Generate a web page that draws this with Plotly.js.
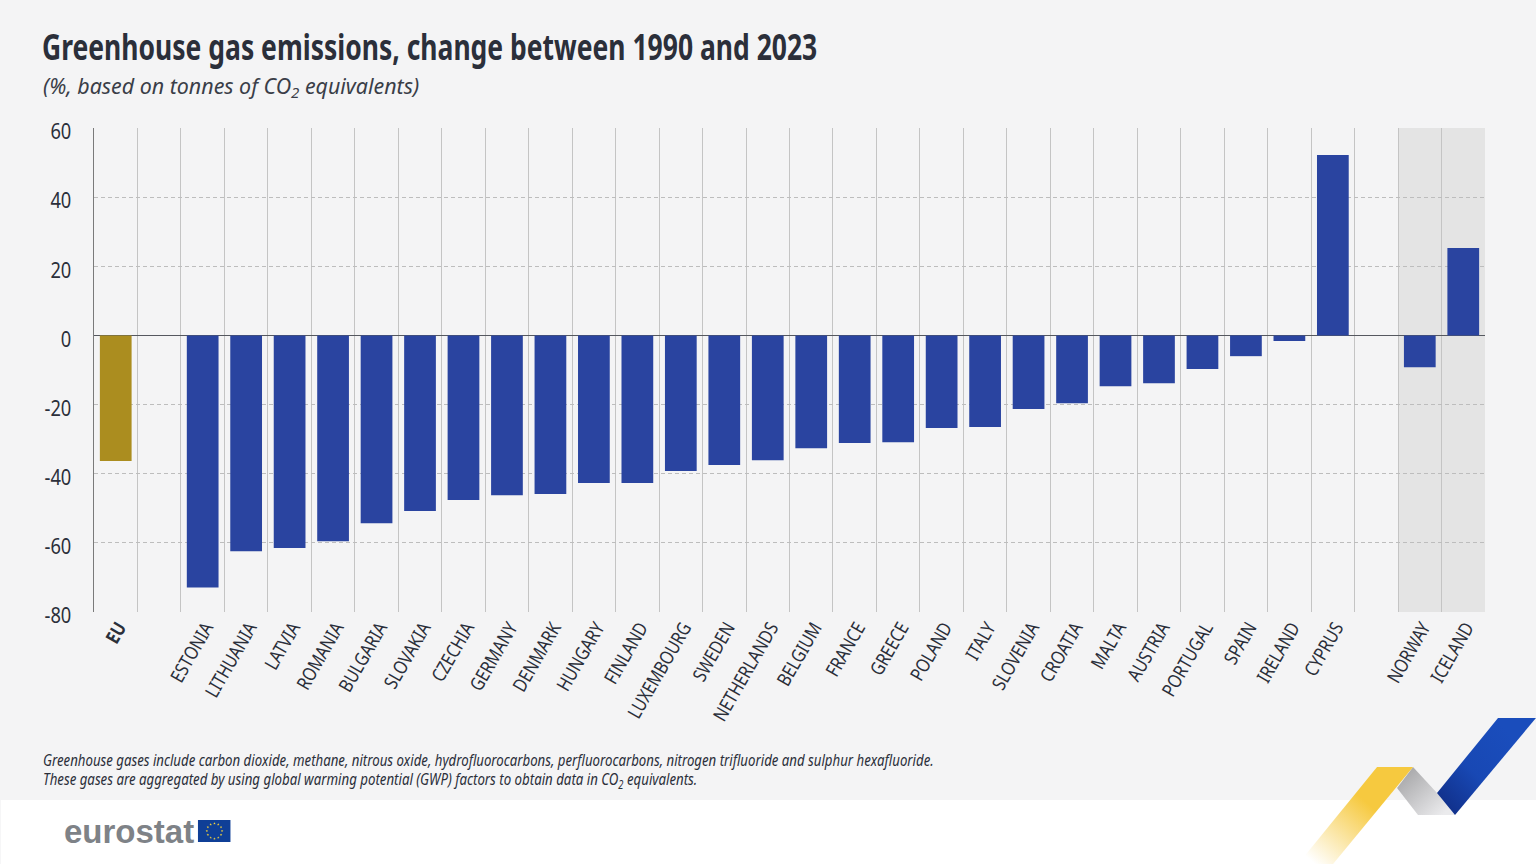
<!DOCTYPE html>
<html>
<head>
<meta charset="utf-8">
<script src="https://cdn.plot.ly/plotly-3.0.1.min.js"></script>
<style>html,body{margin:0;padding:0;background:#f4f4f5;overflow:hidden}#c{width:1536px;height:864px}</style>
</head>
<body>
<div id="c"></div>
<script>
const categories = ['EU',' ','ESTONIA','LITHUANIA','LATVIA','ROMANIA','BULGARIA','SLOVAKIA','CZECHIA','GERMANY','DENMARK','HUNGARY','FINLAND','LUXEMBOURG','SWEDEN','NETHERLANDS','BELGIUM','FRANCE','GREECE','POLAND','ITALY','SLOVENIA','CROATIA','MALTA','AUSTRIA','PORTUGAL','SPAIN','IRELAND','CYPRUS','  ','NORWAY','ICELAND'];
const tickLabels = categories.map(c => c === 'EU' ? '<b>EU</b>' : c);
const values = [-36.3,null,-72.9,-62.4,-61.5,-59.5,-54.3,-50.8,-47.6,-46.2,-45.9,-42.7,-42.7,-39.2,-37.5,-36.1,-32.6,-31.1,-30.9,-26.8,-26.5,-21.3,-19.6,-14.7,-13.8,-9.7,-6.0,-1.6,52.2,null,-9.2,25.3];
const barColors = categories.map(c => c === 'EU' ? '#ab8d1f' : '#2a44a0');
const yTicks = [60,40,20,0,-20,-40,-60,-80];

const FONT = '"Noto Sans","Open Sans",sans-serif';
const W = 1536, H = 864;
const L = 93.5, R = 1485, T = 128, B = 612;
const px = x => (x - L) / (R - L);
const py = y => (B - y) / (B - T);

function star(cx, cy, r){let s='';for(let i=0;i<10;i++){const a=-Math.PI/2+i*Math.PI/5,q=i%2?r*0.4:r;s+=(cx+q*Math.cos(a)).toFixed(2)+','+(cy+q*Math.sin(a)).toFixed(2)+' ';}return `<polygon points="${s}" fill="#f5d33c"/>`;}
let stars='';for(let i=0;i<12;i++){const a=i*Math.PI/6;stars+=star(214+7.6*Math.cos(a),831+7.6*Math.sin(a),1.35);}
const bg = `<svg xmlns="http://www.w3.org/2000/svg" width="${W}" height="${H}" viewBox="0 0 ${W} ${H}">
<defs>
<linearGradient id="y" gradientUnits="userSpaceOnUse" x1="1395" y1="770" x2="1315" y2="864"><stop offset="0" stop-color="#f6c93f"/><stop offset="0.35" stop-color="#f6c93f"/><stop offset="1" stop-color="#ffffff"/></linearGradient>
<linearGradient id="g" gradientUnits="userSpaceOnUse" x1="1402" y1="772" x2="1442" y2="815"><stop offset="0" stop-color="#a6a6a8"/><stop offset="1" stop-color="#ebebed"/></linearGradient>
<linearGradient id="b" gradientUnits="userSpaceOnUse" x1="1515" y1="740" x2="1445" y2="805"><stop offset="0" stop-color="#1a4dbc"/><stop offset="0.55" stop-color="#1848b4"/><stop offset="1" stop-color="#11318c"/></linearGradient>
</defs>
<rect x="0" y="800" width="${W}" height="64" fill="#ffffff"/>
<polygon points="1413,767 1437,793 1455,815 1418,815 1397,788" fill="url(#g)"/>
<polygon points="1377,767 1413,767 1333,864 1298,864" fill="url(#y)"/>
<polygon points="1498,718 1536,718 1455,815 1437,793" fill="url(#b)"/>
<rect x="197.5" y="820" width="32.5" height="22" fill="#0f3f97"/>${stars}
</svg>`;
const bgUri = 'data:image/svg+xml;base64,' + btoa(bg);

const ann = (x, y, text, size, extra) => Object.assign({
  xref:'paper', yref:'paper', x:px(x), y:py(y), xanchor:'left', yanchor:'middle',
  text, showarrow:false, align:'left', font:{family:FONT, size, color:'#2b2f3a'}
}, extra || {});

function condense(el, k, dy){
  const x = +el.getAttribute('x') || 0, y = +el.getAttribute('y') || 0;
  const t = el.getAttribute('transform') || '';
  el.setAttribute('transform', `translate(0,${dy || 0}) ${t} translate(${x},${y}) scale(${k},1) translate(${-x},${-y})`);
}

Plotly.newPlot('c', [{
  type:'bar', x:categories, y:values, width:0.73,
  marker:{color:barColors, line:{width:0}}, hoverinfo:'x+y', showlegend:false
}], {
  width:W, height:H, autosize:false,
  paper_bgcolor:'#f4f4f5', plot_bgcolor:'rgba(0,0,0,0)',
  margin:{l:L, r:W-R, t:T, b:H-B, pad:0},
  showlegend:false, bargap:0.27,
  xaxis:{
    type:'category', categoryorder:'array', categoryarray:categories,
    tickmode:'array', tickvals:categories, ticktext:tickLabels,
    tickson:'boundaries', ticks:'', tickangle:-60, ticklabelstandoff:0, ticklabelshift:3,
    showgrid:true, gridcolor:'#c4c4c4', gridwidth:1,
    showline:false, zeroline:false,
    tickfont:{family:FONT, size:19, color:'#2b2f3a'}, range:[-0.5,31.5], automargin:false
  },
  yaxis:{
    range:[-80,60], tickmode:'array', tickvals:yTicks, ticktext:yTicks.map(String),
    ticks:'', ticklabelstandoff:17, ticklabelshift:2.5,
    showgrid:true, gridcolor:'#bdbdbd', gridwidth:1, griddash:'4px,3px',
    zeroline:true, zerolinecolor:'#55585f', zerolinewidth:1.3,
    showline:true, linecolor:'#7a7a7a', linewidth:1.5,
    tickfont:{family:FONT, size:21, color:'#2b2f3a'}, automargin:false
  },
  images:[{source:bgUri, xref:'paper', yref:'paper', x:px(0), y:py(0), sizex:W/(R-L), sizey:H/(B-T), sizing:'stretch', xanchor:'left', yanchor:'top', layer:'below'}],
  shapes:[{type:'rect', xref:'x', yref:'y', x0:29.5, x1:31.5, y0:-80, y1:60, fillcolor:'#e4e4e4', line:{width:0}, layer:'below'}],
  annotations:[
    ann(39, 47, '<b>Greenhouse gas emissions, change between 1990 and 2023</b>', 36),
    ann(40, 87, '<i>(%, based on tonnes of CO<sub>2</sub> equivalents)</i>', 21.4, {font:{family:FONT, size:21.4, color:'#3a3e48'}}),
    ann(40, 759, '<i>Greenhouse gases include carbon dioxide, methane, nitrous oxide, hydrofluorocarbons, perfluorocarbons, nitrogen trifluoride and sulphur hexafluoride.</i>', 17),
    ann(40, 779, '<i>These gases are aggregated by using global warming potential (GWP) factors to obtain data in CO<sub>2</sub> equivalents.</i>', 17),
    ann(61, 831, '<b>eurostat</b>', 33, {font:{family:'"Liberation Sans",Arial,sans-serif', size:33, color:'#7e8287'}})
  ]
}, {staticPlot:true, displayModeBar:false}).then(gd => {
  gd.querySelectorAll('.xtick text').forEach(el => condense(el, 0.83));
  gd.querySelectorAll('.ytick text').forEach(el => condense(el, 0.87, 4));
  const notes = gd.querySelectorAll('.annotation-text');
  const factors = [0.736, 1, 0.778, 0.78, 1];
  notes.forEach((el, i) => { if (factors[i] !== 1) condense(el, factors[i]); });
});
</script>
</body>
</html>
